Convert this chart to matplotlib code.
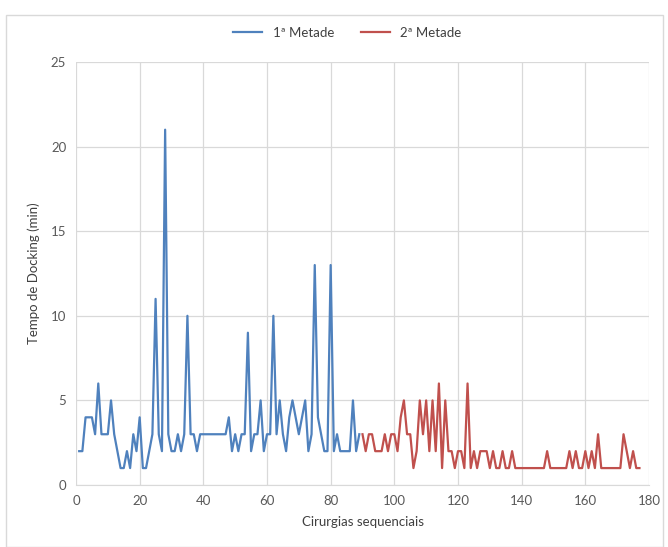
import matplotlib
matplotlib.use("Agg")
import matplotlib.pyplot as plt
from matplotlib.patches import Rectangle

plt.rcParams['font.family'] = ['Lato', 'DejaVu Sans']

# --- data ---
first_half = [2, 2, 4, 4, 4, 3, 6, 3, 3, 3,
              5, 3, 2, 1, 1, 2, 1, 3, 2, 4,
              1, 1, 2, 3, 11, 3, 2, 21, 3, 2,
              2, 3, 2, 3, 10, 3, 3, 2, 3, 3,
              3, 3, 3, 3, 3, 3, 3, 4, 2, 3,
              2, 3, 3, 9, 2, 3, 3, 5, 2, 3,
              3, 10, 3, 5, 3, 2, 4, 5, 4, 3,
              4, 5, 2, 3, 13, 4, 3, 2, 2, 13,
              2, 3, 2, 2, 2, 2, 5, 2, 3]
second_half = [3, 2, 3, 3, 2, 2, 2, 3, 2, 3,
               3, 2, 4, 5, 3, 3, 1, 2, 5, 3,
               5, 2, 5, 2, 6, 1, 5, 2, 2, 1,
               2, 2, 1, 6, 1, 2, 1, 2, 2, 2,
               1, 2, 1, 1, 2, 1, 1, 2, 1, 1,
               1, 1, 1, 1, 1, 1, 1, 1, 2, 1,
               1, 1, 1, 1, 1, 2, 1, 2, 1, 1,
               2, 1, 2, 1, 3, 1, 1, 1, 1, 1,
               1, 1, 3, 2, 1, 2, 1, 1]
x_first = list(range(1, len(first_half) + 1))
x_second = list(range(len(first_half) + 1, len(first_half) + len(second_half) + 1))
series_labels = ["1ª Metade", "2ª Metade"]
x_ticks = [0, 20, 40, 60, 80, 100, 120, 140, 160, 180]
y_ticks = [0, 5, 10, 15, 20, 25]
x_label = "Cirurgias sequenciais"
y_label = "Tempo de Docking (min)"

fig = plt.figure(figsize=(6.68, 5.47), dpi=100)
fig.patches.append(Rectangle((6 / 668, 0), 657 / 668, 1 - 15 / 547,
                             transform=fig.transFigure, fill=False,
                             edgecolor='#d9d9d9', linewidth=1.0))
ax = fig.add_axes([76 / 668, 1 - 485 / 547, (649 - 76) / 668, (485 - 62) / 547])

ax.plot(x_first, first_half, color='#4F81BD', linewidth=1.6, label=series_labels[0])
ax.plot(x_second, second_half, color='#C0504D', linewidth=1.6, label=series_labels[1])

ax.set_xlim(0, 180)
ax.set_ylim(0, 25)
ax.set_xticks(x_ticks)
ax.set_yticks(y_ticks)
ax.grid(True, color='#d9d9d9', linewidth=0.9)
ax.set_axisbelow(True)
for side in ['top', 'right', 'left']:
    ax.spines[side].set_visible(False)
ax.spines['bottom'].set_color('#d9d9d9')
ax.tick_params(length=0, labelsize=9.5, colors='#595959', pad=7)

ax.set_xlabel(x_label, fontsize=9.5, color='#404040', labelpad=7)
ax.set_ylabel(y_label, fontsize=9.5, color='#404040', labelpad=8)

fig.legend(loc='center', bbox_to_anchor=(0.52, 1 - 33 / 547), ncol=2,
           frameon=False, fontsize=9.5, handlelength=2.2, columnspacing=2.0,
           labelcolor='#404040')

fig.savefig("out.png", dpi=100)
